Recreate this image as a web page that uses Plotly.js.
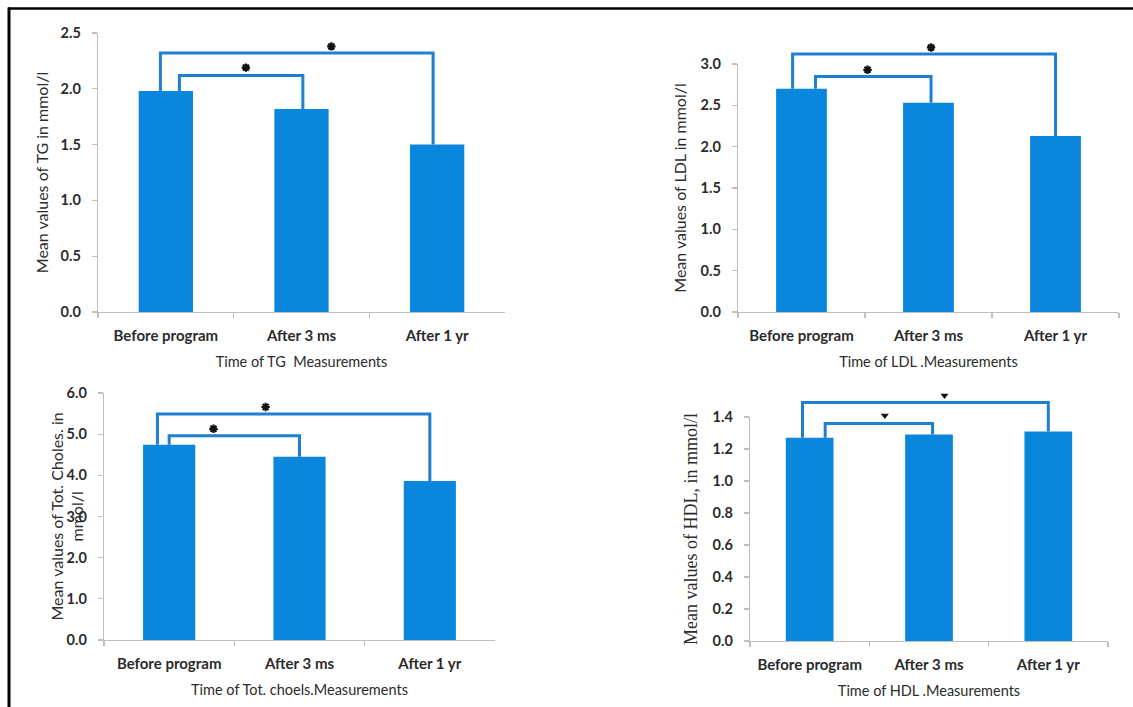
<!DOCTYPE html>
<html>
<head>
<meta charset="utf-8">
<script src="https://cdn.plot.ly/plotly-3.0.1.min.js"></script>
<style>html,body{margin:0;padding:0;background:#fff;}#chart{width:1133px;height:707px;}</style>
</head>
<body>
<div id="chart"></div>
<script>
// ---------- data ----------
const categories = ["Before program", "After 3 ms", "After 1 yr"];

const tgValues  = [1.98, 1.82, 1.50];
const ldlValues = [2.70, 2.53, 2.13];
const tcValues  = [4.74, 4.45, 3.86];
const hdlValues = [1.27, 1.29, 1.31];

// significance brackets: level (y value), left/right leg position (category index units), target bar index
const tgBracketLevels  = [2.12, 2.32];
const tgBracketLeft    = [0.10, -0.04];
const tgBracketRight   = [1.01, 1.97];
const tgBracketTo      = [1, 2];
const tgMarkX          = [0.59, 1.22];
const tgMarkY          = [2.19, 2.38];

const ldlBracketLevels = [2.85, 3.12];
const ldlBracketLeft   = [0.11, -0.07];
const ldlBracketRight  = [1.02, 2.0];
const ldlBracketTo     = [1, 2];
const ldlMarkX         = [0.52, 1.02];
const ldlMarkY         = [2.93, 3.20];

const tcBracketLevels  = [4.96, 5.49];
const tcBracketLeft    = [0.0, -0.09];
const tcBracketRight   = [1.0, 2.0];
const tcBracketTo      = [1, 2];
const tcMarkX          = [0.34, 0.74];
const tcMarkY          = [5.13, 5.66];

const hdlBracketLevels = [1.36, 1.49];
const hdlBracketLeft   = [0.13, -0.06];
const hdlBracketRight  = [1.03, 2.0];
const hdlBracketTo     = [1, 2];
const hdlMarkX         = [0.63, 1.13];
const hdlMarkY         = [1.41, 1.535];

const yTitles = [
  "Mean values of TG in mmol/l",
  "Mean values of LDL in mmol/l",
  "Mean values of Tot. Choles. in<br>mmol/l",
  "Mean values of HDL, in mmol/l"
];
const xTitles = [
  "Time of TG  Measurements",
  "Time of LDL .Measurements",
  "Time of Tot. choels.Measurements",
  "Time of HDL .Measurements"
];

// ---------- layout helpers ----------
const W = 1133, H = 707;
const BAR = "#0a87dc", LINE = "#1f80d3", AXIS = "#bfbfbf", TXT = "#2b2b2b";
const FONT = "Lato, 'Open Sans', sans-serif";
const SERIF = "'Liberation Serif', 'DejaVu Serif', serif";

const panels = [
  {vals: tgValues,  lv: tgBracketLevels,  bl: tgBracketLeft,  br: tgBracketRight,  bt: tgBracketTo,  mx: tgMarkX,  my: tgMarkY,
   px: [98, 505],  py: [33, 312],  R: 2.5, dt: 0.5, mark: "asterisk", tf: FONT, ts: 16, yst: 8},
  {vals: ldlValues, lv: ldlBracketLevels, bl: ldlBracketLeft, br: ldlBracketRight, bt: ldlBracketTo, mx: ldlMarkX, my: ldlMarkY,
   px: [738, 1119], py: [64, 312],  R: 3.0, dt: 0.5, mark: "asterisk", tf: FONT, ts: 16, yst: 10},
  {vals: tcValues,  lv: tcBracketLevels,  bl: tcBracketLeft,  br: tcBracketRight,  bt: tcBracketTo,  mx: tcMarkX,  my: tcMarkY,
   px: [104, 495], py: [393, 640], R: 6.0, dt: 1.0, mark: "asterisk", tf: FONT, ts: 16, yst: 0, annTitle: true},
  {vals: hdlValues, lv: hdlBracketLevels, bl: hdlBracketLeft, br: hdlBracketRight, bt: hdlBracketTo, mx: hdlMarkX, my: hdlMarkY,
   px: [750, 1108], py: [417, 641], R: 1.4, dt: 0.2, mark: "triangle", tf: SERIF, ts: 18, yst: 10}
];

const traces = [];
const layout = {
  width: W, height: H,
  margin: {l: 0, r: 0, t: 0, b: 0},
  paper_bgcolor: "#fff", plot_bgcolor: "rgba(0,0,0,0)",
  showlegend: false,
  font: {family: FONT, size: 14, color: TXT},
  annotations: [],
  shapes: [
    {type: "line", xref: "paper", yref: "paper", x0: 8/W, x1: 1, y0: 1 - 8.5/H, y1: 1 - 8.5/H, line: {color: "#000", width: 2.5}},
    {type: "line", xref: "paper", yref: "paper", x0: 9/W, x1: 9/W, y0: 0, y1: 1 - 7.5/H, line: {color: "#000", width: 3}}
  ]
};

panels.forEach((p, i) => {
  const n = i + 1, nb = i + 5;
  const xd = [p.px[0] / W, p.px[1] / W];
  const yd = [1 - p.py[1] / H, 1 - p.py[0] / H];
  const xs = n === 1 ? "" : n, ys = n === 1 ? "" : n;

  traces.push({
    type: "bar", x: categories, y: p.vals,
    xaxis: "x" + xs, yaxis: "y" + ys,
    marker: {color: BAR, line: {width: 0}},
    width: 0.4, hoverinfo: "x+y"
  });

  layout["xaxis" + xs] = {
    domain: xd, anchor: "y" + ys, type: "category",
    range: [-0.5, 2.5], showline: true, linecolor: AXIS, linewidth: 1.3,
    ticks: "outside", tickson: "boundaries", ticklen: 5, tickcolor: AXIS, tickwidth: 1.3,
    ticklabelstandoff: 10,
    showgrid: false, zeroline: false, fixedrange: true,
    tickfont: {family: FONT, size: 15, color: TXT, weight: "bold"},
    title: {text: xTitles[i], font: {family: FONT, size: 14.5, color: TXT}, standoff: 13}
  };
  layout["yaxis" + ys] = {
    domain: yd, anchor: "x" + xs, range: [0, p.R], dtick: p.dt, tick0: 0,
    tickformat: ".1f", showline: true, linecolor: AXIS, linewidth: 1.3,
    ticks: "outside", ticklen: 5, tickcolor: AXIS, tickwidth: 1.3,
    ticklabelstandoff: 8,
    showgrid: false, zeroline: false, fixedrange: true,
    tickfont: {family: FONT, size: 14.5, color: TXT, weight: "bold"},
    title: p.annTitle ? {text: ""} : {text: yTitles[i], font: {family: p.tf, size: p.ts, color: TXT}, standoff: p.yst}
  };
  if (p.annTitle) {
    layout.annotations.push({
      text: yTitles[i], textangle: -90, showarrow: false,
      xref: "paper", yref: "y" + ys + " domain", x: 66 / W, y: 0.5,
      xanchor: "center", yanchor: "middle",
      font: {family: p.tf, size: p.ts, color: TXT}
    });
  }

  // overlay axes for brackets with the same scale, extended upward
  const ext = 30 / H;
  const yd2 = [yd[0], yd[1] + ext];
  const R2 = p.R * (yd2[1] - yd2[0]) / (yd[1] - yd[0]);
  layout["xaxis" + nb] = {domain: xd, anchor: "y" + nb, range: [-0.5, 2.5], visible: false, fixedrange: true};
  layout["yaxis" + nb] = {domain: yd2, anchor: "x" + nb, range: [0, R2], visible: false, fixedrange: true};

  p.lv.forEach((lev, k) => {
    traces.push({
      type: "scatter", mode: "lines",
      x: [p.bl[k], p.bl[k], p.br[k], p.br[k]],
      y: [p.vals[0], lev, lev, p.vals[p.bt[k]]],
      xaxis: "x" + nb, yaxis: "y" + nb,
      line: {color: LINE, width: 3, shape: "linear"},
      hoverinfo: "skip"
    });
  });
  traces.push({
    type: "scatter", mode: "markers",
    x: p.mx, y: p.my, xaxis: "x" + nb, yaxis: "y" + nb,
    marker: p.mark === "triangle"
      ? {symbol: "triangle-down", size: 7, color: "#111"}
      : {symbol: "asterisk-open", size: 7, color: "#111", line: {color: "#111", width: 2.2}},
    hoverinfo: "skip"
  });
});

Plotly.newPlot("chart", traces, layout, {displayModeBar: false, staticPlot: true});
</script>
</body>
</html>
